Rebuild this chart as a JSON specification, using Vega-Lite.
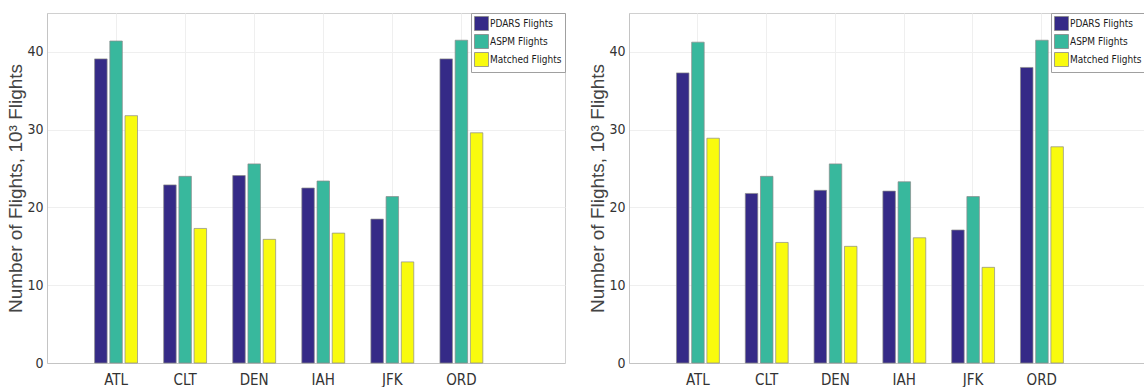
{
  "$schema": "https://vega.github.io/schema/vega-lite/v6.json",
  "padding": {"left": 6, "top": 12, "right": 0, "bottom": 0},
  "background": "white",
  "bounds": "flush",
  "spacing": 64,
  "datasets": {
    "flights": [
      {"panel": "L", "airport": "ATL", "type": "PDARS Flights", "value": 39.1},
      {"panel": "L", "airport": "ATL", "type": "ASPM Flights", "value": 41.4},
      {"panel": "L", "airport": "ATL", "type": "Matched Flights", "value": 31.8},
      {"panel": "L", "airport": "CLT", "type": "PDARS Flights", "value": 22.9},
      {"panel": "L", "airport": "CLT", "type": "ASPM Flights", "value": 24.0},
      {"panel": "L", "airport": "CLT", "type": "Matched Flights", "value": 17.3},
      {"panel": "L", "airport": "DEN", "type": "PDARS Flights", "value": 24.1},
      {"panel": "L", "airport": "DEN", "type": "ASPM Flights", "value": 25.6},
      {"panel": "L", "airport": "DEN", "type": "Matched Flights", "value": 15.9},
      {"panel": "L", "airport": "IAH", "type": "PDARS Flights", "value": 22.5},
      {"panel": "L", "airport": "IAH", "type": "ASPM Flights", "value": 23.4},
      {"panel": "L", "airport": "IAH", "type": "Matched Flights", "value": 16.7},
      {"panel": "L", "airport": "JFK", "type": "PDARS Flights", "value": 18.5},
      {"panel": "L", "airport": "JFK", "type": "ASPM Flights", "value": 21.4},
      {"panel": "L", "airport": "JFK", "type": "Matched Flights", "value": 13.0},
      {"panel": "L", "airport": "ORD", "type": "PDARS Flights", "value": 39.1},
      {"panel": "L", "airport": "ORD", "type": "ASPM Flights", "value": 41.5},
      {"panel": "L", "airport": "ORD", "type": "Matched Flights", "value": 29.6},
      {"panel": "R", "airport": "ATL", "type": "PDARS Flights", "value": 37.3},
      {"panel": "R", "airport": "ATL", "type": "ASPM Flights", "value": 41.25},
      {"panel": "R", "airport": "ATL", "type": "Matched Flights", "value": 28.9},
      {"panel": "R", "airport": "CLT", "type": "PDARS Flights", "value": 21.8},
      {"panel": "R", "airport": "CLT", "type": "ASPM Flights", "value": 24.0},
      {"panel": "R", "airport": "CLT", "type": "Matched Flights", "value": 15.5},
      {"panel": "R", "airport": "DEN", "type": "PDARS Flights", "value": 22.2},
      {"panel": "R", "airport": "DEN", "type": "ASPM Flights", "value": 25.6},
      {"panel": "R", "airport": "DEN", "type": "Matched Flights", "value": 15.0},
      {"panel": "R", "airport": "IAH", "type": "PDARS Flights", "value": 22.1},
      {"panel": "R", "airport": "IAH", "type": "ASPM Flights", "value": 23.3},
      {"panel": "R", "airport": "IAH", "type": "Matched Flights", "value": 16.1},
      {"panel": "R", "airport": "JFK", "type": "PDARS Flights", "value": 17.1},
      {"panel": "R", "airport": "JFK", "type": "ASPM Flights", "value": 21.4},
      {"panel": "R", "airport": "JFK", "type": "Matched Flights", "value": 12.3},
      {"panel": "R", "airport": "ORD", "type": "PDARS Flights", "value": 38.0},
      {"panel": "R", "airport": "ORD", "type": "ASPM Flights", "value": 41.5},
      {"panel": "R", "airport": "ORD", "type": "Matched Flights", "value": 27.8}
    ]
  },
  "resolve": {"legend": {"color": "independent"}, "scale": {"x": "independent", "y": "independent", "color": "independent"}},
  "hconcat": [
    {
      "width": 518,
      "height": 350,
      "data": {"name": "flights"},
      "transform": [{"filter": "datum.panel === 'L'"}],
      "mark": {"type": "bar", "stroke": "#8a8a8a", "strokeWidth": 0.7},
      "encoding": {
        "x": {"field": "airport", "type": "nominal", "title": null,
              "scale": {"paddingInner": 0, "paddingOuter": 0.75, "align": 0.3333},
              "axis": {"labelAngle": 0, "bandPosition": 0.5, "grid": true, "ticks": false}},
        "xOffset": {"field": "type", "type": "nominal",
              "scale": {"domain": ["PDARS Flights", "ASPM Flights", "Matched Flights"], "paddingInner": 0.178, "paddingOuter": 0.861}},
        "y": {"field": "value", "type": "quantitative", "title": "Number of Flights, 10³ Flights",
              "scale": {"domain": [0, 45], "nice": false},
              "axis": {"values": [0, 10, 20, 30, 40]}},
        "color": {"field": "type", "type": "nominal",
              "scale": {"domain": ["PDARS Flights", "ASPM Flights", "Matched Flights"], "range": ["#352a87", "#38b89d", "#f9fb0e"]},
              "legend": {"title": null}}
      }
    },
    {
      "width": 516,
      "height": 350,
      "data": {"name": "flights"},
      "transform": [{"filter": "datum.panel === 'R'"}],
      "mark": {"type": "bar", "stroke": "#8a8a8a", "strokeWidth": 0.7},
      "encoding": {
        "x": {"field": "airport", "type": "nominal", "title": null,
              "scale": {"paddingInner": 0, "paddingOuter": 0.75, "align": 0.3333},
              "axis": {"labelAngle": 0, "bandPosition": 0.5, "grid": true, "ticks": false}},
        "xOffset": {"field": "type", "type": "nominal",
              "scale": {"domain": ["PDARS Flights", "ASPM Flights", "Matched Flights"], "paddingInner": 0.178, "paddingOuter": 0.861}},
        "y": {"field": "value", "type": "quantitative", "title": "Number of Flights, 10³ Flights",
              "scale": {"domain": [0, 45], "nice": false},
              "axis": {"values": [0, 10, 20, 30, 40]}},
        "color": {"field": "type", "type": "nominal",
              "scale": {"domain": ["PDARS Flights", "ASPM Flights", "Matched Flights"], "range": ["#352a87", "#38b89d", "#f9fb0e"]},
              "legend": {"title": null}}
      }
    }
  ],
  "config": {
    "view": {"stroke": "#d0d0d0", "strokeWidth": 1},
    "axis": {
      "domainColor": "#c4c4c4",
      "gridColor": "#efefef",
      "gridWidth": 1,
      "labelColor": "#333333",
      "labelFont": "DejaVu Sans Condensed, Liberation Sans Narrow, Roboto, sans-serif",
      "titleFont": "Liberation Sans, sans-serif",
      "titleColor": "#444444",
      "titleFontWeight": "normal"
    },
    "axisX": {"labelFontSize": 15, "labelPadding": 9, "domainColor": "#c4c4c4"},
    "axisY": {"labelFontSize": 14, "labelPadding": 4, "ticks": false, "titleFontSize": 19, "titlePadding": 1},
    "legend": {
      "orient": "top-right",
      "offset": 0,
      "symbolType": "square",
      "symbolSize": 196,
      "symbolStrokeColor": "#888888",
      "symbolStrokeWidth": 0.8,
      "labelFont": "DejaVu Sans Condensed, Liberation Sans Narrow, Roboto, sans-serif",
      "labelFontSize": 10,
      "labelColor": "#1a1a1a",
      "labelOffset": 1,
      "symbolOffset": 0,
      "strokeColor": "#a0a0a0",
      "fillColor": "white",
      "padding": 3,
      "rowPadding": -1
    }
  }
}
